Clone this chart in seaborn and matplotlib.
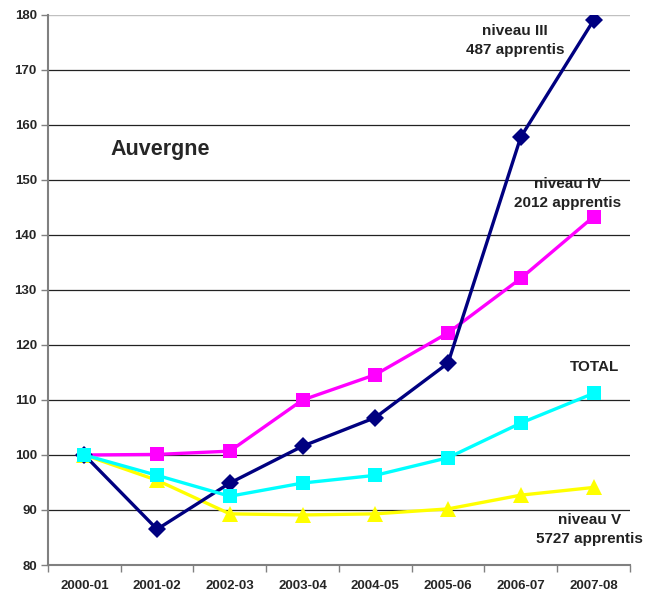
import pandas as pd
import numpy as np
from matplotlib import pyplot as plt
import seaborn as sns

# data (base 100 in 2000-01)
years = ['2000-01', '2001-02', '2002-03', '2003-04', '2004-05', '2005-06', '2006-07', '2007-08']
niveau_iii = [100, 86.5, 94.9, 101.6, 106.8, 116.7, 157.8, 179.0]
niveau_iv = [100, 100.1, 100.7, 110.0, 114.6, 122.2, 132.1, 143.3]
niveau_v = [100, 95.4, 89.3, 89.1, 89.3, 90.2, 92.7, 94.1]
total = [100, 96.3, 92.5, 94.9, 96.3, 99.5, 105.8, 111.2]

sns.set_style('white')
plt.rcParams['font.family'] = ['Liberation Sans', 'DejaVu Sans']

fig = plt.figure(figsize=(6.59, 5.96), dpi=100)
ax = fig.add_axes([0.0728, 0.052, 0.883, 0.923])

# horizontal gridlines
for v in range(90, 180, 10):
    ax.axhline(v, color='#222222', linewidth=0.9, zorder=0)
ax.axhline(180, color='#c0c0c0', linewidth=1, zorder=0)

common = dict(linewidth=2.4, markeredgewidth=0, ax=ax)
sns.lineplot(x=years, y=niveau_iii, color='#000080', marker='D', markersize=9, zorder=3, **common)
sns.lineplot(x=years, y=niveau_iv, color='#FF00FF', marker='s', markersize=10.5, zorder=2, **common)
sns.lineplot(x=years, y=niveau_v, color='#FFFF00', marker='^', markersize=12, zorder=2, **common)
sns.lineplot(x=years, y=total, color='#00FFFF', marker='s', markersize=10.5, zorder=4, **common)

ax.set_xlim(-0.5, len(years) - 0.5)
ax.set_ylim(80, 180)
ax.set_yticks(range(80, 181, 10))
ax.set_xticks(range(len(years)))
ax.set_xticklabels(years)
ax.set_xticks(np.arange(-0.5, len(years), 1), minor=True)
ax.tick_params(axis='x', which='major', length=0, pad=11, labelsize=9.5)
ax.tick_params(axis='x', which='minor', length=5, width=1, color='#808080', direction='out', bottom=True)
ax.tick_params(axis='y', length=5, width=1, color='#808080', direction='out', left=True, labelsize=9.5, pad=3)
for lbl in ax.get_xticklabels() + ax.get_yticklabels():
    lbl.set_fontweight('bold')

for s in ['top', 'right']:
    ax.spines[s].set_visible(False)
for s in ['left', 'bottom']:
    ax.spines[s].set_color('#808080')
    ax.spines[s].set_linewidth(1.5)

txt = dict(fontsize=11, fontweight='bold', color='#222222', ha='center', va='center', linespacing=1.45)
ax.text(0.36, 155.5, 'Auvergne', fontsize=15.5, fontweight='bold', ha='left', va='center')
ax.text(5.92, 175.3, 'niveau III\n487 apprentis', **txt)
ax.text(6.65, 147.6, 'niveau IV\n2012 apprentis', **txt)
ax.text(7.02, 116.0, 'TOTAL', **txt)
ax.text(6.95, 86.4, 'niveau V\n5727 apprentis', **txt)

ax.set_xlabel('')
ax.set_ylabel('')
plt.savefig('out.png', dpi=100)
